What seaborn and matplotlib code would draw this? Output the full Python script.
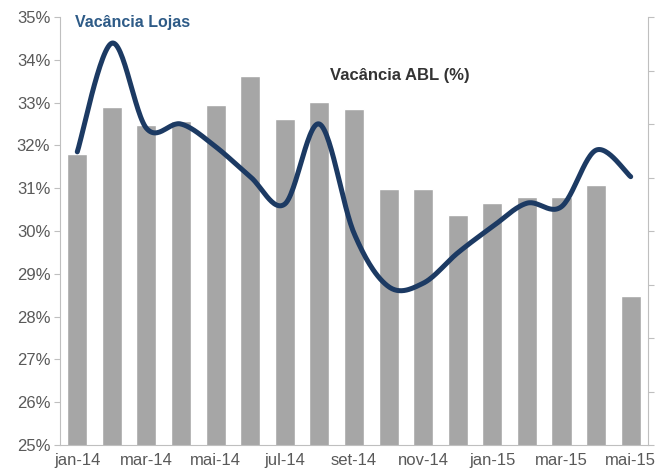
"""Vacância ABL (bars) vs Vacância Lojas (smoothed line), jan-14 to mai-15."""

import matplotlib

matplotlib.use("Agg")

import matplotlib.pyplot as plt
import numpy as np
import pandas as pd
import seaborn as sns
from matplotlib.ticker import FixedLocator, FuncFormatter, NullFormatter

months = [
    "jan-14", "fev-14", "mar-14", "abr-14", "mai-14", "jun-14", "jul-14",
    "ago-14", "set-14", "out-14", "nov-14", "dez-14", "jan-15", "fev-15",
    "mar-15", "abr-15", "mai-15",
]
vacancia_abl = [
    31.81, 32.89, 32.48, 32.58, 32.94, 33.63, 32.61, 33.02, 32.85,
    30.98, 30.98, 30.37, 30.65, 30.79, 30.79, 31.07, 28.48,
]
vacancia_lojas = [
    31.85, 34.39, 32.40, 32.50, 31.97, 31.27, 30.63, 32.50, 29.95,
    28.70, 28.78, 29.49, 30.10, 30.65, 30.57, 31.89, 31.27,
]

BAR_COLOR = "#A6A6A6"
LINE_COLOR = "#1C3A63"
AXIS_COLOR = "#BFBFBF"
TICK_TEXT = "#595959"

sns.set_style("white")
plt.rcParams["font.family"] = ["Liberation Sans", "DejaVu Sans"]


def smooth_curve(xs, ys, steps=30):
    """Excel-like smoothed line: cubic Bezier segments with Catmull-Rom handles."""
    pts = np.column_stack([xs, ys]).astype(float)
    padded = np.vstack([pts[0], pts, pts[-1]])
    t = np.linspace(0, 1, steps)[:, None]
    out = []
    for i in range(len(pts) - 1):
        p0, p1, p2, p3 = padded[i], padded[i + 1], padded[i + 2], padded[i + 3]
        b1 = p1 + (p2 - p0) / 6
        b2 = p2 - (p3 - p1) / 6
        seg = ((1 - t) ** 3) * p1 + 3 * ((1 - t) ** 2) * t * b1 + 3 * (1 - t) * t**2 * b2 + t**3 * p2
        out.append(seg if i == 0 else seg[1:])
    curve = np.vstack(out)
    return curve[:, 0], curve[:, 1]


df = pd.DataFrame({"mes": months, "abl": vacancia_abl, "lojas": vacancia_lojas})

fig = plt.figure(figsize=(6.57, 4.73), dpi=100)
ax = fig.add_axes([0.0913, 0.0592, 0.8950, 0.9048])

sns.barplot(data=df, x="mes", y="abl", order=months, color=BAR_COLOR,
            width=0.58, saturation=1, ax=ax)

pos = np.arange(len(months))
cx, cy = smooth_curve(pos, df["lojas"].to_numpy())
sns.lineplot(x=cx, y=cy, sort=False, estimator=None, color=LINE_COLOR,
             linewidth=3.6, solid_capstyle="round", ax=ax)

ax.set_ylim(25, 35)
ax.set_xlim(-0.5, len(months) - 0.5)
ax.set_yticks(np.arange(25, 36, 1))
ax.yaxis.set_major_formatter(FuncFormatter(lambda v, _: f"{v:.0f}%"))
ax.set_xlabel("")
ax.set_ylabel("")

# tick marks sit between categories every two months, labels at bar centres
ax.xaxis.set_major_locator(FixedLocator(np.arange(-0.5, len(months) - 0.5, 2)))
ax.xaxis.set_major_formatter(NullFormatter())
ax.xaxis.set_minor_locator(FixedLocator(pos[::2]))
ax.xaxis.set_minor_formatter(FuncFormatter(lambda v, _: months[int(round(v))]))
ax.tick_params(axis="x", which="major", length=5, width=0.8, color=AXIS_COLOR, direction="out")
ax.tick_params(axis="x", which="minor", length=0, pad=6, labelsize=12, labelcolor=TICK_TEXT)
ax.tick_params(axis="y", length=4, width=0.8, color=AXIS_COLOR, direction="out",
               pad=3, labelsize=12, labelcolor=TICK_TEXT)

for side in ["left", "bottom"]:
    ax.spines[side].set_color(AXIS_COLOR)
    ax.spines[side].set_linewidth(0.8)
ax.spines["top"].set_visible(False)
ax.spines["right"].set_visible(False)

# secondary axis on the right: ticks only, no labels
ax2 = ax.twinx()
ax2.set_ylim(0, 8)
ax2.set_yticks(np.arange(0, 9, 1))
ax2.yaxis.set_major_formatter(NullFormatter())
ax2.tick_params(axis="y", length=4, width=0.8, color=AXIS_COLOR, direction="out")
for side in ["left", "top", "bottom"]:
    ax2.spines[side].set_visible(False)
ax2.spines["right"].set_color(AXIS_COLOR)
ax2.spines["right"].set_linewidth(0.8)

ax.text(0.0255, 34.88, "Vacância Lojas", fontsize=11.5, fontweight="bold",
        color="#2E5B87", ha="left", va="center", transform=ax.get_yaxis_transform())
ax.text(7.3, 33.64, "Vacância ABL (%)", fontsize=12, fontweight="bold",
        color="#333333", ha="left", va="center")

fig.savefig("out.png", dpi=100)
